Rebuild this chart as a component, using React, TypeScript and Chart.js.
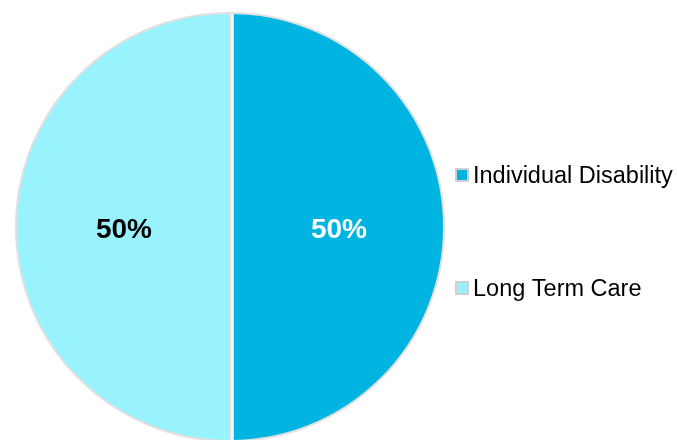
import React, { useEffect, useRef } from "react";
import { Chart, registerables } from "chart.js";

Chart.register(...registerables);

const categories = ["Individual Disability", "Long Term Care"];
const values = [50, 50];
const percentLabels = ["50%", "50%"];
const sliceColors = ["#00B4E1", "#99F3FF"];
const labelColors = ["#ffffff", "#000000"];

const separatorPlugin = {
  id: "separator",
  afterDatasetsDraw(chart: any) {
    const ctx = chart.ctx;
    const arc = chart.getDatasetMeta(0).data[0];
    if (!arc) return;
    const cx = arc.x;
    const cy = arc.y;
    const r = arc.outerRadius;
    ctx.save();
    ctx.fillStyle = "#dedede";
    ctx.fillRect(cx, cy - r, 4, 2 * r);
    ctx.fillStyle = "#f7f7f7";
    ctx.fillRect(cx + 1, cy - r + 1, 2, 2 * r - 2);
    ctx.restore();
  },
};

const labelsPlugin = {
  id: "sliceLabels",
  afterDatasetsDraw(chart: any) {
    const ctx = chart.ctx;
    const meta = chart.getDatasetMeta(0);
    ctx.save();
    ctx.font = "bold 28px 'Liberation Sans', Arial, sans-serif";
    ctx.textAlign = "center";
    ctx.textBaseline = "middle";
    meta.data.forEach((arc: any, i: number) => {
      const p = arc.getCenterPoint();
      ctx.fillStyle = labelColors[i];
      ctx.fillText(percentLabels[i], p.x + (i === 0 ? 2 : 1), p.y + 3);
    });
    ctx.restore();
  },
};

const legendPlugin = {
  id: "customLegend",
  afterDraw(chart: any) {
    const ctx = chart.ctx;
    const baselines = [183, 296];
    ctx.save();
    ctx.font = "23.5px 'Liberation Sans', Arial, sans-serif";
    ctx.textAlign = "left";
    ctx.textBaseline = "alphabetic";
    categories.forEach((c, i) => {
      const by = baselines[i];
      ctx.fillStyle = "#d0d0d0";
      ctx.fillRect(455, by - 15, 14, 14);
      ctx.fillStyle = sliceColors[i];
      ctx.fillRect(457, by - 13, 10, 10);
      ctx.fillStyle = "#000000";
      ctx.fillText(c, 473, by);
    });
    ctx.restore();
  },
};

export default function App() {
  const ref = useRef<HTMLCanvasElement>(null);
  useEffect(() => {
    document.body.style.margin = "0";
    const chart = new Chart(ref.current!, {
      type: "pie",
      data: {
        labels: categories,
        datasets: [
          {
            data: values,
            backgroundColor: sliceColors,
            borderColor: "#e0e0e0",
            borderWidth: 2,
          },
        ],
      },
      options: {
        animation: false,
        responsive: false,
        maintainAspectRatio: false,
        layout: { padding: { left: 15, right: 232, top: 12, bottom: 2 } },
        plugins: {
          legend: { display: false },
          tooltip: { enabled: false },
        },
      },
      plugins: [separatorPlugin, labelsPlugin, legendPlugin],
    });
    return () => chart.destroy();
  }, []);
  return (
    <div style={{ position: "absolute", left: 0, top: 0, width: 677, height: 440, overflow: "hidden", background: "#fff" }}>
      <canvas ref={ref} width={677} height={444} style={{ display: "block" }} />
    </div>
  );
}
